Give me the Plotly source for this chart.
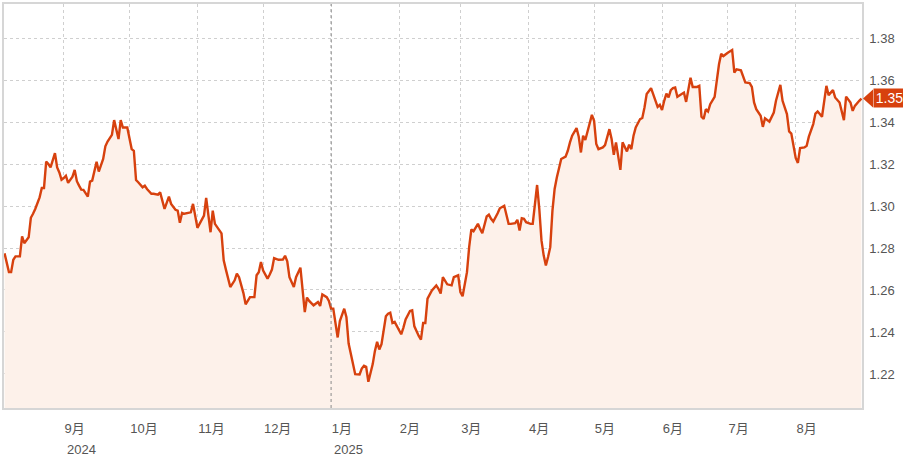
"""GBP/USD style daily rate chart, Aug 2024 - Aug 2025."""

import plotly.graph_objects as go

dates = [
    "2024-08-05", "2024-08-07", "2024-08-08", "2024-08-09", "2024-08-10", "2024-08-12", "2024-08-13",
    "2024-08-14", "2024-08-16", "2024-08-17", "2024-08-18", "2024-08-19", "2024-08-21", "2024-08-22",
    "2024-08-23", "2024-08-24", "2024-08-25", "2024-08-26", "2024-08-28", "2024-08-29", "2024-08-30",
    "2024-08-31", "2024-09-01", "2024-09-02", "2024-09-03", "2024-09-05", "2024-09-06", "2024-09-07",
    "2024-09-08", "2024-09-09", "2024-09-10", "2024-09-12", "2024-09-13", "2024-09-14", "2024-09-16",
    "2024-09-17", "2024-09-19", "2024-09-20", "2024-09-21", "2024-09-22", "2024-09-23", "2024-09-24",
    "2024-09-26", "2024-09-27", "2024-09-28", "2024-09-30", "2024-10-02", "2024-10-03", "2024-10-04",
    "2024-10-05", "2024-10-07", "2024-10-08", "2024-10-09", "2024-10-11", "2024-10-12", "2024-10-14",
    "2024-10-15", "2024-10-17", "2024-10-19", "2024-10-20", "2024-10-22", "2024-10-23", "2024-10-24",
    "2024-10-25", "2024-10-26", "2024-10-29", "2024-10-30", "2024-11-01", "2024-11-04", "2024-11-05",
    "2024-11-07", "2024-11-08", "2024-11-09", "2024-11-12", "2024-11-13", "2024-11-14", "2024-11-15",
    "2024-11-16", "2024-11-18", "2024-11-19", "2024-11-20", "2024-11-22", "2024-11-23", "2024-11-24",
    "2024-11-25", "2024-11-27", "2024-11-28", "2024-11-29", "2024-11-30", "2024-12-01", "2024-12-03",
    "2024-12-04", "2024-12-05", "2024-12-06", "2024-12-08", "2024-12-10", "2024-12-11", "2024-12-12",
    "2024-12-13", "2024-12-15", "2024-12-16", "2024-12-18", "2024-12-19", "2024-12-20", "2024-12-21",
    "2024-12-22", "2024-12-24", "2024-12-26", "2024-12-27", "2024-12-28", "2024-12-30", "2024-12-31",
    "2025-01-01", "2025-01-02", "2025-01-04", "2025-01-05", "2025-01-07", "2025-01-08", "2025-01-09",
    "2025-01-10", "2025-01-12", "2025-01-14", "2025-01-15", "2025-01-16", "2025-01-17", "2025-01-18",
    "2025-01-20", "2025-01-21", "2025-01-22", "2025-01-23", "2025-01-24", "2025-01-26", "2025-01-27",
    "2025-01-28", "2025-01-29", "2025-01-30", "2025-02-01", "2025-02-02", "2025-02-03", "2025-02-04",
    "2025-02-06", "2025-02-07", "2025-02-08", "2025-02-09", "2025-02-10", "2025-02-11", "2025-02-12",
    "2025-02-13", "2025-02-14", "2025-02-16", "2025-02-18", "2025-02-19", "2025-02-20", "2025-02-21",
    "2025-02-23", "2025-02-25", "2025-02-26", "2025-02-28", "2025-03-01", "2025-03-02", "2025-03-03",
    "2025-03-04", "2025-03-05", "2025-03-06", "2025-03-07", "2025-03-09", "2025-03-10", "2025-03-11",
    "2025-03-13", "2025-03-14", "2025-03-15", "2025-03-16", "2025-03-18", "2025-03-19", "2025-03-21",
    "2025-03-22", "2025-03-23", "2025-03-24", "2025-03-26", "2025-03-27", "2025-03-28", "2025-03-29",
    "2025-03-30", "2025-03-31", "2025-04-02", "2025-04-03", "2025-04-04", "2025-04-05", "2025-04-06",
    "2025-04-07", "2025-04-08", "2025-04-09", "2025-04-10", "2025-04-11", "2025-04-12", "2025-04-13",
    "2025-04-14", "2025-04-15", "2025-04-16", "2025-04-18", "2025-04-19", "2025-04-20", "2025-04-21",
    "2025-04-23", "2025-04-24", "2025-04-25", "2025-04-26", "2025-04-27", "2025-04-29", "2025-04-30",
    "2025-05-01", "2025-05-02", "2025-05-03", "2025-05-05", "2025-05-06", "2025-05-08", "2025-05-09",
    "2025-05-10", "2025-05-11", "2025-05-12", "2025-05-13", "2025-05-14", "2025-05-16", "2025-05-17",
    "2025-05-18", "2025-05-19", "2025-05-20", "2025-05-22", "2025-05-23", "2025-05-24", "2025-05-25",
    "2025-05-27", "2025-05-29", "2025-05-30", "2025-05-31", "2025-06-01", "2025-06-02", "2025-06-03",
    "2025-06-04", "2025-06-05", "2025-06-06", "2025-06-07", "2025-06-08", "2025-06-10", "2025-06-11",
    "2025-06-12", "2025-06-13", "2025-06-14", "2025-06-15", "2025-06-17", "2025-06-18", "2025-06-19",
    "2025-06-20", "2025-06-21", "2025-06-22", "2025-06-23", "2025-06-25", "2025-06-26", "2025-06-27",
    "2025-06-28", "2025-06-29", "2025-07-01", "2025-07-03", "2025-07-04", "2025-07-05", "2025-07-07",
    "2025-07-08", "2025-07-09", "2025-07-11", "2025-07-12", "2025-07-13", "2025-07-14", "2025-07-16",
    "2025-07-17", "2025-07-18", "2025-07-19", "2025-07-20", "2025-07-22", "2025-07-23", "2025-07-25",
    "2025-07-26", "2025-07-28", "2025-07-29", "2025-07-30", "2025-08-01", "2025-08-02", "2025-08-03",
    "2025-08-05", "2025-08-06", "2025-08-07", "2025-08-09", "2025-08-10", "2025-08-11", "2025-08-12",
    "2025-08-13", "2025-08-15", "2025-08-16", "2025-08-18", "2025-08-19", "2025-08-21", "2025-08-22",
    "2025-08-23", "2025-08-24", "2025-08-26", "2025-08-27", "2025-08-28", "2025-08-30", "2025-08-31",
]

rates = [
    1.2775, 1.2685, 1.2685, 1.2744, 1.2760, 1.2760, 1.2855,
    1.2823, 1.2851, 1.2944, 1.2963, 1.2986, 1.3041, 1.3086,
    1.3086, 1.3211, 1.3200, 1.3184, 1.3252, 1.3184, 1.3160,
    1.3125, 1.3133, 1.3144, 1.3110, 1.3140, 1.3172, 1.3118,
    1.3097, 1.3078, 1.3077, 1.3045, 1.3116, 1.3121, 1.3211,
    1.3164, 1.3224, 1.3284, 1.3307, 1.3324, 1.3339, 1.3409,
    1.3319, 1.3409, 1.3374, 1.3374, 1.3271, 1.3263, 1.3124,
    1.3113, 1.3089, 1.3097, 1.3081, 1.3058, 1.3058, 1.3054,
    1.3065, 1.2986, 1.3045, 1.3010, 1.2982, 1.2978, 1.2920,
    1.2967, 1.2963, 1.2970, 1.3010, 1.2896, 1.2954, 1.3039,
    1.2875, 1.2978, 1.2915, 1.2870, 1.2741, 1.2697, 1.2661,
    1.2614, 1.2646, 1.2678, 1.2661, 1.2585, 1.2532, 1.2551,
    1.2566, 1.2566, 1.2670, 1.2685, 1.2733, 1.2693, 1.2654,
    1.2674, 1.2697, 1.2752, 1.2744, 1.2745, 1.2763, 1.2737,
    1.2661, 1.2614, 1.2661, 1.2706, 1.2598, 1.2495, 1.2564,
    1.2548, 1.2527, 1.2543, 1.2524, 1.2579, 1.2566, 1.2548,
    1.2511, 1.2511, 1.2374, 1.2452, 1.2511, 1.2471, 1.2345,
    1.2298, 1.2199, 1.2198, 1.2226, 1.2239, 1.2234, 1.2163,
    1.2247, 1.2310, 1.2353, 1.2317, 1.2342, 1.2475, 1.2487,
    1.2492, 1.2443, 1.2448, 1.2412, 1.2389, 1.2421, 1.2460,
    1.2500, 1.2503, 1.2427, 1.2400, 1.2381, 1.2364, 1.2443,
    1.2443, 1.2559, 1.2598, 1.2622, 1.2606, 1.2583, 1.2661,
    1.2627, 1.2622, 1.2661, 1.2670, 1.2590, 1.2570, 1.2622,
    1.2685, 1.2804, 1.2888, 1.2880, 1.2915, 1.2891, 1.2870,
    1.2950, 1.2959, 1.2939, 1.2926, 1.2965, 1.2989, 1.3001,
    1.2963, 1.2915, 1.2915, 1.2918, 1.2934, 1.2883, 1.2942,
    1.2939, 1.2923, 1.2915, 1.2915, 1.2994, 1.3100, 1.2986,
    1.2836, 1.2765, 1.2717, 1.2757, 1.2804, 1.2978, 1.3081,
    1.3136, 1.3187, 1.3224, 1.3235, 1.3263, 1.3303, 1.3335,
    1.3371, 1.3330, 1.3255, 1.3335, 1.3314, 1.3390, 1.3434,
    1.3406, 1.3295, 1.3271, 1.3279, 1.3290, 1.3366, 1.3319,
    1.3244, 1.3303, 1.3247, 1.3172, 1.3303, 1.3260, 1.3292,
    1.3271, 1.3335, 1.3374, 1.3414, 1.3419, 1.3469, 1.3533,
    1.3561, 1.3501, 1.3472, 1.3482, 1.3457, 1.3501, 1.3535,
    1.3517, 1.3552, 1.3561, 1.3564, 1.3520, 1.3533, 1.3540,
    1.3496, 1.3564, 1.3611, 1.3567, 1.3567, 1.3572, 1.3425,
    1.3415, 1.3461, 1.3450, 1.3485, 1.3520, 1.3611, 1.3675,
    1.3725, 1.3714, 1.3730, 1.3743, 1.3635, 1.3651, 1.3646,
    1.3615, 1.3588, 1.3585, 1.3567, 1.3493, 1.3461, 1.3430,
    1.3377, 1.3418, 1.3409, 1.3402, 1.3445, 1.3501, 1.3577,
    1.3501, 1.3438, 1.3355, 1.3345, 1.3229, 1.3205, 1.3276,
    1.3279, 1.3287, 1.3330, 1.3390, 1.3440, 1.3450, 1.3438,
    1.3425, 1.3572, 1.3528, 1.3552, 1.3517, 1.3493, 1.3453,
    1.3409, 1.3521, 1.3493, 1.3453, 1.3477, 1.3501, 1.3512,
]

month_ticks = [
    "2024-09-01", "2024-10-01", "2024-11-01", "2024-12-01", "2025-01-01", "2025-02-01",
    "2025-03-01", "2025-04-01", "2025-05-01", "2025-06-01", "2025-07-01", "2025-08-01",
]
month_labels = ["9月", "10月", "11月", "12月", "1月", "2月", "3月", "4月", "5月", "6月", "7月", "8月"]
year_ticks = ["2024-09-01", "2025-01-01"]
year_labels = ["2024", "2025"]
rate_ticks = [1.22, 1.24, 1.26, 1.28, 1.30, 1.32, 1.34, 1.36, 1.38]

LINE = "#d7410e"
FILL = "#fdf1ea"
FONT = "Liberation Sans, Arial, Noto Sans CJK SC, sans-serif"

fig = go.Figure(go.Scatter(
    x=dates, y=rates, mode="lines", fill="tozeroy", fillcolor=FILL,
    line=dict(color=LINE, width=2.4), hoverinfo="x+y",
))

fig.update_layout(
    width=903, height=457, margin=dict(l=2, r=41, t=3, b=49),
    paper_bgcolor="white", plot_bgcolor="white", showlegend=False,
    font=dict(family=FONT, size=13, color="#555"),
)
fig.update_xaxes(
    range=["2024-08-04 18:00", "2025-08-31 06:00"], tickvals=month_ticks, ticktext=month_labels,
    ticklabelposition="outside right", ticks="", ticklabelstandoff=8,
    showgrid=True, gridcolor="#cfcfcf", griddash="dot",
    showline=True, mirror=True, linecolor="#d6d6d6", linewidth=1.5, zeroline=False,
)
fig.update_yaxes(
    range=[1.2038, 1.3962], side="right", tickvals=rate_ticks,
    ticktext=[f"{v:.2f}" for v in rate_ticks], ticks="", ticklabelstandoff=3,
    showgrid=True, gridcolor="#cfcfcf", griddash="dot",
    showline=True, mirror=True, linecolor="#d6d6d6", linewidth=1.5, zeroline=False,
)

# year labels under the first month of each year
for xv, label in zip(year_ticks, year_labels):
    fig.add_annotation(x=xv, xref="x", y=0, yref="paper", xanchor="left", yanchor="middle",
                       xshift=1, yshift=-41, text=label, showarrow=False)

# year boundary line, darker than the month grid
fig.add_shape(type="line", xref="x", yref="paper", x0="2025-01-01", x1="2025-01-01", y0=0, y1=1,
              line=dict(color="#8a8a8a", width=1, dash="dot"))

# last-value tag on the right axis
last = rates[-1]
fig.add_shape(type="path", xref="paper", yref="y", xsizemode="pixel", ysizemode="pixel",
              xanchor=1, yanchor=last, path="M 1 0 L 11 9 L 11 -9 Z",
              fillcolor=LINE, line=dict(width=0))
fig.add_annotation(x=1, xref="paper", y=last, yref="y", xanchor="left", yanchor="middle",
                   xshift=11, text=f"{last:.2f}", showarrow=False, bgcolor=LINE,
                   font=dict(color="white", size=14, family=FONT), width=31, height=18, borderpad=0)

fig.write_html("out.html", config={"displayModeBar": False},
               post_script="document.body.style.margin = '0';")
